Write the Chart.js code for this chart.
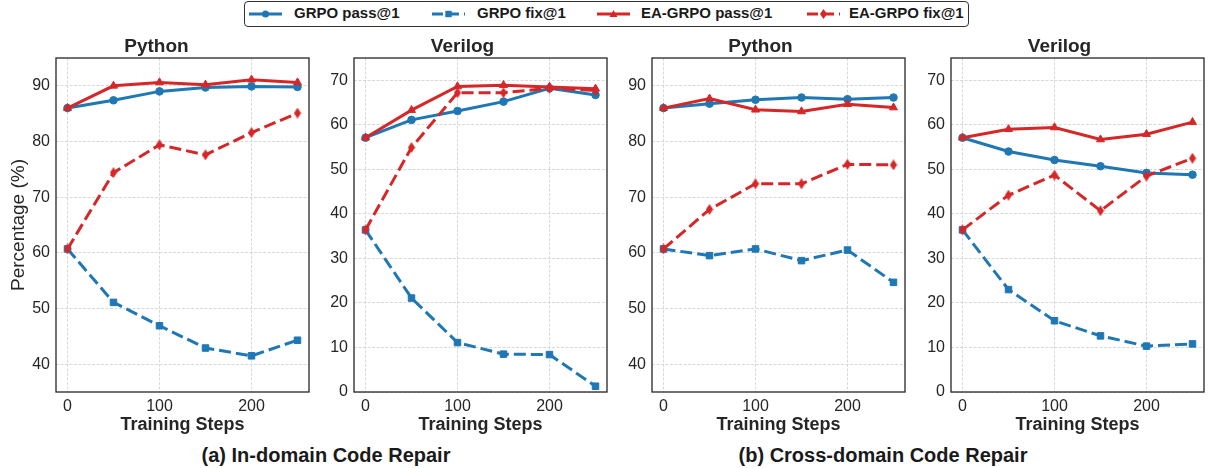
<!DOCTYPE html>
<html><head><meta charset="utf-8">
<script src="https://cdn.jsdelivr.net/npm/chart.js@4/dist/chart.umd.min.js"></script>
<style>
html,body{margin:0;padding:0;background:#fff;width:1210px;height:468px;overflow:hidden;font-family:"Liberation Sans",Arial,sans-serif;}
canvas{position:absolute;}
#legend{position:absolute;left:244px;top:1px;width:725px;height:26px;border:1px solid #333;border-radius:4px;box-sizing:border-box;}
.h{position:absolute;top:0;}
.lbl{position:absolute;top:-1px;font-weight:bold;font-size:15px;color:#1a1a1a;line-height:24px;white-space:nowrap;}
.cap{position:absolute;top:445px;font-weight:bold;font-size:20px;line-height:20px;color:#1a1a1a;transform:translateX(-50%);white-space:nowrap;}
</style></head>
<body>
<div id="legend">
  <svg class="h" style="left:4px" width="33" height="24"><line x1="0" y1="12" x2="33" y2="12" stroke="#1f77b4" stroke-width="3"/><circle cx="16.5" cy="12" r="3.5" fill="#1f77b4"/></svg>
  <div class="lbl" style="left:49px">GRPO pass@1</div>
  <svg class="h" style="left:187px" width="33" height="24"><line x1="0" y1="12" x2="33" y2="12" stroke="#1f77b4" stroke-width="3" stroke-dasharray="11,5"/><rect x="13.3" y="8.8" width="6.4" height="6.4" fill="#1f77b4"/></svg>
  <div class="lbl" style="left:232px">GRPO fix@1</div>
  <svg class="h" style="left:352px" width="33" height="24"><line x1="0" y1="12" x2="33" y2="12" stroke="#d62728" stroke-width="3"/><polygon points="16.5,8 20.5,15 12.5,15" fill="#d62728"/></svg>
  <div class="lbl" style="left:396px">EA-GRPO pass@1</div>
  <svg class="h" style="left:562px" width="33" height="24"><line x1="0" y1="12" x2="33" y2="12" stroke="#d62728" stroke-width="3" stroke-dasharray="11,5"/><polygon points="16.5,7 20,12 16.5,17 13,12" fill="#d62728"/></svg>
  <div class="lbl" style="left:604px">EA-GRPO fix@1</div>
</div>
<canvas id="c1" width="315" height="401" style="left:0px;top:35px"></canvas>
<canvas id="c2" width="299" height="401" style="left:314px;top:35px"></canvas>
<canvas id="c3" width="299" height="401" style="left:612px;top:35px"></canvas>
<canvas id="c4" width="299" height="401" style="left:911px;top:35px"></canvas>
<div class="cap" style="left:326px">(a) In-domain Code Repair</div>
<div class="cap" style="left:883px">(b) Cross-domain Code Repair</div>
<script>
// ---- data ----
const steps = [0, 50, 100, 150, 200, 250];
const xTicks = [0, 100, 200];
const pyTicks = [40, 50, 60, 70, 80, 90];
const vTicks = [0, 10, 20, 30, 40, 50, 60, 70];
const seriesNames = ['GRPO pass@1', 'GRPO fix@1', 'EA-GRPO pass@1', 'EA-GRPO fix@1'];
const panelTitles = ['Python', 'Verilog', 'Python', 'Verilog'];

// (a) In-domain, Python
const inPyGrpoPass = [86.0, 87.4, 89.0, 89.7, 89.9, 89.8];
const inPyGrpoFix  = [60.7, 51.1, 46.9, 42.9, 41.5, 44.3];
const inPyEaPass   = [86.0, 90.0, 90.6, 90.2, 91.1, 90.6];
const inPyEaFix    = [60.7, 74.4, 79.4, 77.6, 81.6, 85.1];
// (a) In-domain, Verilog
const inVGrpoPass = [57.1, 61.1, 63.1, 65.2, 68.2, 66.7];
const inVGrpoFix  = [36.4, 21.1, 11.1, 8.5, 8.4, 1.3];
const inVEaPass   = [57.1, 63.3, 68.6, 68.9, 68.5, 68.1];
const inVEaFix    = [36.4, 54.9, 67.2, 67.2, 68.2, 67.7];
// (b) Cross-domain, Python
const crPyGrpoPass = [86.0, 86.8, 87.5, 87.9, 87.6, 87.9];
const crPyGrpoFix  = [60.7, 59.5, 60.7, 58.6, 60.5, 54.7];
const crPyEaPass   = [86.0, 87.7, 85.7, 85.4, 86.7, 86.1];
const crPyEaFix    = [60.7, 67.8, 72.4, 72.4, 75.9, 75.8];
// (b) Cross-domain, Verilog
const crVGrpoPass = [57.1, 54.0, 52.1, 50.7, 49.2, 48.8];
const crVGrpoFix  = [36.4, 23.0, 16.0, 12.6, 10.3, 10.8];
const crVEaPass   = [57.1, 59.0, 59.4, 56.7, 57.9, 60.6];
const crVEaFix    = [36.4, 44.2, 48.7, 40.7, 48.5, 52.5];

// ---- styling ----
const FONT = '"Liberation Sans", Arial, sans-serif';
const BLUE = '#1f77b4', RED = '#d62728', TXT = '#262626';

function thinDiamond(color){
  const c = document.createElement('canvas');
  c.width = 8; c.height = 11;
  const g = c.getContext('2d');
  g.fillStyle = color;
  g.beginPath(); g.moveTo(4,0); g.lineTo(7.6,5.5); g.lineTo(4,11); g.lineTo(0.4,5.5); g.closePath(); g.fill();
  return c;
}
const diamondImg = thinDiamond(RED);

const styles = [
  {color: BLUE, dash: [], point: 'circle', r: 3.8, order: 4},
  {color: BLUE, dash: [12,5], point: 'rect', r: 4.6, order: 3},
  {color: RED, dash: [], point: 'triangle', r: 4.6, order: 2},
  {color: RED, dash: [12,5], point: diamondImg, r: 5, order: 1},
];

const framePlugin = {
  id: 'frame',
  afterDatasetsDraw(chart){
    const a = chart.chartArea, ctx = chart.ctx;
    ctx.save();
    ctx.strokeStyle = '#262626';
    ctx.lineWidth = 1.3;
    ctx.strokeRect(a.left, a.top, a.right - a.left, a.bottom - a.top);
    ctx.restore();
  }
};

function makePanel(id, title, seriesList, yMin, yMax, yTickVals, yWidth, yTitle){
  const datasets = seriesList.map((vals, i) => ({
    label: seriesNames[i],
    data: steps.map((s, k) => ({x: s, y: vals[k]})),
    borderColor: styles[i].color,
    backgroundColor: styles[i].color,
    borderWidth: 3,
    borderDash: styles[i].dash,
    borderCapStyle: 'butt',
    pointStyle: styles[i].point,
    pointRadius: styles[i].r,
    pointBackgroundColor: styles[i].color,
    pointBorderColor: styles[i].color,
    pointBorderWidth: 1,
    tension: 0,
    order: styles[i].order,
  }));
  new Chart(document.getElementById(id), {
    type: 'line',
    data: {datasets},
    plugins: [framePlugin],
    options: {
      responsive: false,
      animation: false,
      devicePixelRatio: 1,
      layout: {padding: {left: 0, right: 2, top: 0, bottom: 0}},
      plugins: {
        legend: {display: false},
        tooltip: {enabled: false},
        title: {display: true, text: title, color: TXT,
          font: {family: FONT, size: 19, weight: 'bold', lineHeight: 1.2},
          padding: {top: 0, bottom: 0.2}}
      },
      scales: {
        x: {
          type: 'linear', min: -12.5, max: 262.5,
          afterBuildTicks: s => { s.ticks = xTicks.map(v => ({value: v})); },
          afterFit: s => { s.height = 44; },
          grid: {color: '#cfcfcf', lineWidth: 0.8, drawTicks: false},
          border: {display: false, dash: [3, 1.5]},
          ticks: {color: TXT, font: {family: FONT, size: 16}, padding: 5, maxRotation: 0, autoSkip: false},
          title: {display: true, text: 'Training Steps', color: TXT,
            font: {family: FONT, size: 18, weight: 'bold', lineHeight: 1.2}, padding: {top: 0, bottom: 0}}
        },
        y: {
          type: 'linear', min: yMin, max: yMax,
          afterBuildTicks: s => { s.ticks = yTickVals.map(v => ({value: v})); },
          afterFit: s => { s.width = yWidth; },
          grid: {color: '#cfcfcf', lineWidth: 0.8, drawTicks: false},
          border: {display: false, dash: [3, 1.5]},
          ticks: {color: TXT, font: {family: FONT, size: 16}, padding: 6, autoSkip: false},
          title: {display: !!yTitle, text: yTitle || '', color: TXT,
            font: {family: FONT, size: 19, lineHeight: 1.2}, padding: {top: 7, bottom: 0}}
        }
      }
    }
  });
}

makePanel('c1', panelTitles[0], [inPyGrpoPass, inPyGrpoFix, inPyEaPass, inPyEaFix], 35, 95, pyTicks, 56, 'Percentage (%)');
makePanel('c2', panelTitles[1], [inVGrpoPass, inVGrpoFix, inVEaPass, inVEaFix], 0, 75, vTicks, 40, null);
makePanel('c3', panelTitles[2], [crPyGrpoPass, crPyGrpoFix, crPyEaPass, crPyEaFix], 35, 95, pyTicks, 40, null);
makePanel('c4', panelTitles[3], [crVGrpoPass, crVGrpoFix, crVEaPass, crVEaFix], 0, 75, vTicks, 40, null);
</script>
</body></html>
